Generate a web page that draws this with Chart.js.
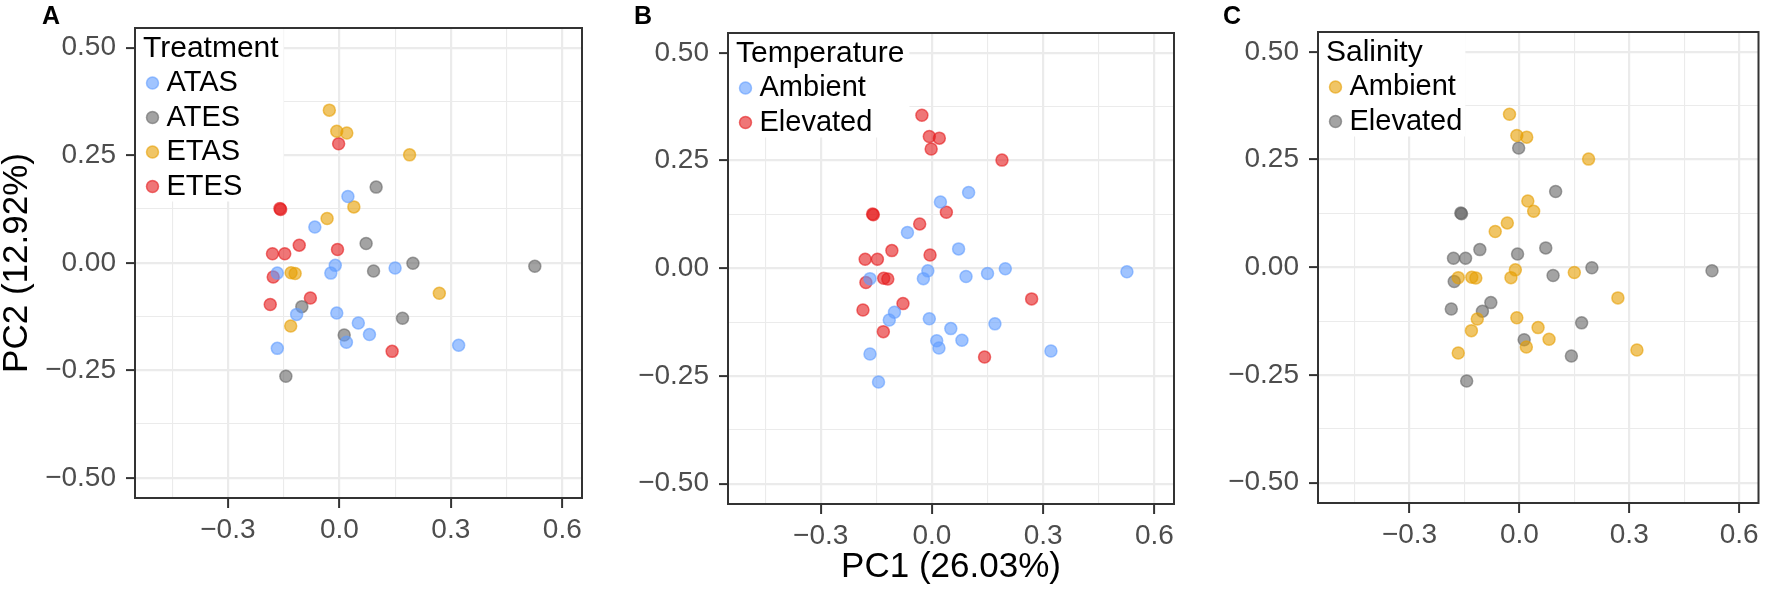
<!DOCTYPE html>
<html>
<head>
<meta charset="utf-8">
<script src="https://cdn.jsdelivr.net/npm/chart.js@4.4.0/dist/chart.umd.min.js"></script>
<style>
  html, body { margin: 0; padding: 0; background: #fff; }
  #wrap { position: relative; width: 1766px; height: 591px; overflow: hidden; }
  canvas { position: absolute; top: 0; }
  .tag { position: absolute; top: 3px; font: bold 25px/25px "Liberation Sans", Arial, sans-serif; color: #000; }
</style>
</head>
<body>
<div id="wrap">
  <canvas id="panelA" width="600" height="591" style="left:0px"></canvas>
  <canvas id="panelB" width="590" height="591" style="left:600px"></canvas>
  <canvas id="panelC" width="576" height="591" style="left:1190px"></canvas>
  <div class="tag" style="left:42px">A</div>
  <div class="tag" style="left:634px">B</div>
  <div class="tag" style="left:1223px">C</div>
</div>
<script>
const FONT = '"Liberation Sans", Arial, Helvetica, sans-serif';

// PCA scores per treatment
const treatments = ['ATAS', 'ATES', 'ETAS', 'ETES'];
const atasPC1 = [0.023, -0.066, -0.011, -0.023, -0.167, 0.150, -0.115, -0.007, 0.051, 0.081, 0.019, -0.167, 0.321];
const atasPC2 = [0.154, 0.083, -0.006, -0.024, -0.024, -0.012, -0.120, -0.117, -0.140, -0.167, -0.185, -0.199, -0.192];
const atesPC1 = [0.099, 0.072, 0.092, 0.198, 0.526, -0.101, 0.170, 0.013, -0.144];
const atesPC2 = [0.176, 0.045, -0.019, -0.001, -0.008, -0.102, -0.129, -0.168, -0.264];
const etasPC1 = [-0.027, -0.007, 0.020, 0.189, 0.039, -0.033, -0.130, -0.119, 0.269, -0.131];
const etasPC2 = [0.355, 0.306, 0.302, 0.251, 0.130, 0.103, -0.023, -0.025, -0.071, -0.147];
const etesPC1 = [-0.002, -0.160, -0.158, -0.108, -0.005, -0.180, -0.147, -0.178, -0.078, -0.186, 0.142];
const etesPC2 = [0.277, 0.126, 0.124, 0.041, 0.031, 0.021, 0.021, -0.033, -0.082, -0.097, -0.206];

const levels = ['Ambient', 'Elevated'];

// axis ticks (minor ones carry no label)
const xTicks = [-0.45, -0.3, -0.15, 0, 0.15, 0.3, 0.45, 0.6];
const xMajor = [-0.3, 0, 0.3, 0.6];
const yTicks = [-0.5, -0.375, -0.25, -0.125, 0, 0.125, 0.25, 0.375, 0.5];
const yMajor = [-0.5, -0.25, 0, 0.25, 0.5];
const xRange = [-0.55, 0.653];
const yRange = [-0.547, 0.546];

const BLUE = '#619CFF', GREY = '#666666', ORANGE = '#E69F00', RED = '#E41A1C';
const treatmentColors = [BLUE, GREY, ORANGE, RED];

function rgba(hex, a) {
  const n = parseInt(hex.slice(1), 16);
  return `rgba(${n >> 16}, ${(n >> 8) & 255}, ${n & 255}, ${a})`;
}
const zip = (xs, ys) => xs.map((x, i) => ({x: x, y: ys[i]}));
const isIn = (v, list) => list.some(m => Math.abs(m - v) < 1e-9);
const fmt = (v, d) => (v < 0 ? '\u2212' : '') + Math.abs(v).toFixed(d);

const scores = {
  ATAS: zip(atasPC1, atasPC2),
  ATES: zip(atesPC1, atesPC2),
  ETAS: zip(etasPC1, etasPC2),
  ETES: zip(etesPC1, etesPC2)
};

function ds(label, data, color) {
  return {
    label: label,
    data: data,
    backgroundColor: rgba(color, 0.6),
    borderColor: rgba(color, 0.6),
    borderWidth: 1.5,
    pointRadius: 6,
    pointHoverRadius: 6,
    legendColor: color
  };
}

// ggplot-like legend sitting inside the top-left corner of the panel
const insideLegend = {
  id: 'insideLegend',
  afterDatasetsDraw(chart, args, opts) {
    const {ctx, chartArea: a} = chart;
    const sets = chart.data.datasets;
    ctx.save();
    ctx.font = `30px ${FONT}`;
    const titleW = ctx.measureText(opts.title).width;
    ctx.font = `29px ${FONT}`;
    const labelW = Math.max(...sets.map(d => ctx.measureText(d.label).width));
    const w = Math.max(8 + titleW + 5, 31.5 + labelW + 3);
    const h = 55 + (sets.length - 1) * 34.5 + 15;
    ctx.fillStyle = '#ffffff';
    ctx.fillRect(a.left, a.top, w, h);

    ctx.textBaseline = 'middle';
    ctx.textAlign = 'left';
    ctx.fillStyle = '#000000';
    ctx.font = `30px ${FONT}`;
    ctx.fillText(opts.title, a.left + 8, a.top + 20.5);

    ctx.font = `29px ${FONT}`;
    sets.forEach((d, i) => {
      const y = a.top + 55 + i * 34.5;
      ctx.beginPath();
      ctx.arc(a.left + 17.5, y, 6, 0, Math.PI * 2);
      ctx.fillStyle = rgba(d.legendColor, 0.6);
      ctx.fill();
      ctx.lineWidth = 1.5;
      ctx.strokeStyle = rgba(d.legendColor, 0.6);
      ctx.stroke();
      ctx.fillStyle = '#000000';
      ctx.fillText(d.label, a.left + 31.5, y);
    });
    ctx.restore();
  }
};

const panelBorder = {
  id: 'panelBorder',
  afterDraw(chart) {
    const {ctx, chartArea: a} = chart;
    ctx.save();
    ctx.strokeStyle = '#333333';
    ctx.lineWidth = 2;
    ctx.strokeRect(a.left, a.top, a.right - a.left, a.bottom - a.top);
    ctx.restore();
  }
};

function makePanel(id, geom, datasets, legendTitle, showX, showY) {
  new Chart(document.getElementById(id), {
    type: 'scatter',
    data: {datasets: datasets},
    options: {
      responsive: false,
      animation: false,
      events: [],
      layout: {padding: {top: geom.top, right: geom.right, left: 0, bottom: 0}},
      plugins: {
        legend: {display: false},
        tooltip: {enabled: false},
        insideLegend: {title: legendTitle}
      },
      scales: {
        x: {
          type: 'linear',
          min: xRange[0],
          max: xRange[1],
          afterBuildTicks: s => { s.ticks = xTicks.map(v => ({value: v})); },
          afterFit: s => { s.height = geom.xAxisH; },
          border: {display: false},
          grid: {
            color: '#EBEBEB',
            lineWidth: c => isIn(c.tick.value, xMajor) ? 2.2 : 1.1,
            tickColor: c => isIn(c.tick.value, xMajor) ? '#333333' : 'rgba(0,0,0,0)',
            tickWidth: 2,
            tickLength: 10
          },
          ticks: {
            autoSkip: false,
            maxRotation: 0,
            padding: 5,
            color: '#4D4D4D',
            font: {family: FONT, size: 28},
            callback: v => isIn(v, xMajor) ? fmt(v, 1) : ''
          },
          title: {
            display: showX,
            text: 'PC1 (26.03%)',
            color: '#000000',
            font: {family: FONT, size: 35, lineHeight: 1},
            padding: {top: 0, bottom: 6}
          }
        },
        y: {
          type: 'linear',
          min: yRange[0],
          max: yRange[1],
          afterBuildTicks: s => { s.ticks = yTicks.map(v => ({value: v})); },
          afterFit: s => { s.width = geom.yAxisW; },
          border: {display: false},
          grid: {
            color: '#EBEBEB',
            lineWidth: c => isIn(c.tick.value, yMajor) ? 2.2 : 1.1,
            tickColor: c => isIn(c.tick.value, yMajor) ? '#333333' : 'rgba(0,0,0,0)',
            tickWidth: 2,
            tickLength: 9
          },
          ticks: {
            autoSkip: false,
            padding: 10,
            color: '#4D4D4D',
            font: {family: FONT, size: 28},
            callback: v => isIn(v, yMajor) ? fmt(v, 2) : ''
          },
          title: {
            display: showY,
            text: 'PC2 (12.92%)',
            color: '#000000',
            font: {family: FONT, size: 35, lineHeight: 1},
            padding: 0
          }
        }
      }
    },
    plugins: [insideLegend, panelBorder]
  });
}

// A: by treatment
makePanel('panelA', {top: 28, right: 18, yAxisW: 135, xAxisH: 93},
  treatments.map((t, i) => ds(t, scores[t], treatmentColors[i])),
  'Treatment', false, true);

// B: by temperature
makePanel('panelB', {top: 33, right: 16, yAxisW: 128, xAxisH: 87},
  [ds(levels[0], scores.ATAS.concat(scores.ATES), BLUE),
   ds(levels[1], scores.ETAS.concat(scores.ETES), RED)],
  'Temperature', true, false);

// C: by salinity
makePanel('panelC', {top: 32, right: 1, yAxisW: 128, xAxisH: 88},
  [ds(levels[0], scores.ATAS.concat(scores.ETAS), ORANGE),
   ds(levels[1], scores.ATES.concat(scores.ETES), GREY)],
  'Salinity', false, false);
</script>
</body>
</html>
